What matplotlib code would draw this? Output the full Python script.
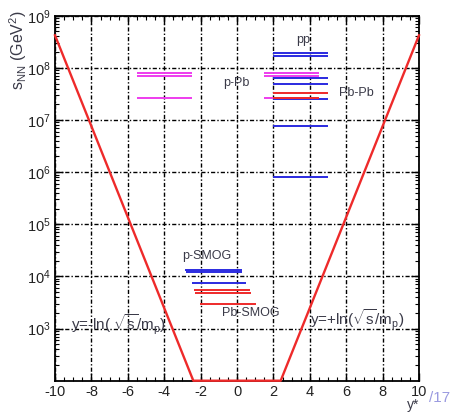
import matplotlib
matplotlib.use('Agg')
import matplotlib.pyplot as plt
from matplotlib.ticker import MultipleLocator, LogLocator, NullFormatter

plt.rcParams['font.family'] = ['Liberation Sans', 'DejaVu Sans']
plt.rcParams['mathtext.fontset'] = 'custom'
plt.rcParams['mathtext.rm'] = 'Liberation Sans'
plt.rcParams['mathtext.it'] = 'Liberation Sans'

# kinematic limit (V shape)
lim_y = [-10, -2.4, 2.4, 10]
lim_s = [4.2e8, 100, 100, 4.2e8]

# collider systems: s_NN values and y* ranges
pp_s = [1.96e8, 1.69e8, 6.4e7, 4.9e7, 2.5e7, 7.6e6, 8.1e5]
pp_y = (2.0, 5.0)
ppb_s = [8.1e7, 7.0e7, 2.6e7]
ppb_y = [(-5.5, -2.5), (1.5, 4.5)]
pbpb_s = [3.3e7, 2.6e7]
pbpb_y1 = [5.0, 4.5]
pbpb_y0 = 2.0

# fixed target (SMOG)
psmog_s = [1.35e4, 1.2e4, 7.6e3]
psmog_y0 = [-2.86, -2.8, -2.5]
psmog_y1 = [0.26, 0.3, 0.5]
pbsmog_s = [5.5e3, 4.8e3, 3.0e3]
pbsmog_y0 = [-2.36, -2.3, -2.03]
pbsmog_y1 = [0.71, 0.77, 1.04]

blue = '#2a2ae0'
mag = '#ee3cee'
red = '#ee2a2a'
txt = '#3a3a48'

fig = plt.figure(figsize=(4.54, 4.12), dpi=100)
ax = fig.add_axes([55/454, 1-380.7/412, 364/454, 365/412])
ax.set_yscale('log')
ax.set_xlim(-10, 10)
ax.set_ylim(1e2, 1e9)

# grid
ax.xaxis.set_major_locator(MultipleLocator(2))
ax.xaxis.set_minor_locator(MultipleLocator(0.5))
ax.grid(True, which='major', color='black', lw=1.0, ls=(0, (3, 1.5, 1, 1.5)))

# lines
lw = 1.4
for s in pp_s:
    ax.hlines(s, pp_y[0], pp_y[1], color=blue, lw=lw)
for y0, y1 in ppb_y:
    for s in ppb_s:
        ax.hlines(s, y0, y1, color=mag, lw=lw)
for s, y1 in zip(pbpb_s, pbpb_y1):
    ax.hlines(s, pbpb_y0, y1, color=red, lw=lw)
for s, y0, y1 in zip(psmog_s, psmog_y0, psmog_y1):
    ax.hlines(s, y0, y1, color=blue, lw=lw)
for s, y0, y1 in zip(pbsmog_s, pbsmog_y0, pbsmog_y1):
    ax.hlines(s, y0, y1, color=red, lw=lw)

ax.plot(lim_y, lim_s, color=red, lw=1.7, clip_on=False, zorder=5)

# labels
ax.text(3.65, 3.4e8, 'pp', color=txt, fontsize=9, ha='center', va='center')
ax.text(-0.05, 5.1e7, 'p-Pb', color=txt, fontsize=9, ha='center', va='center')
ax.text(5.6, 3.3e7, 'Pb-Pb', color=txt, fontsize=9, ha='left', va='center')
ax.text(-3.0, 2.45e4, 'p-SMOG', color=txt, fontsize=9, ha='left', va='center')
ax.text(-0.8, 2.0e3, 'Pb-SMOG', color=txt, fontsize=9, ha='left', va='center')
ax.text(-9.1, 1.2e3, r'y=-ln( $\sqrt{\rm s}$/m$_{\rm p}$)', color=txt, fontsize=11,
        ha='left', va='center')
ax.text(4.0, 1.45e3, r'y=+ln($\sqrt{\rm s}$/m$_{\rm p}$)', color=txt, fontsize=11,
        ha='left', va='center')

# ticks
ax.set_yticks([1e3, 1e4, 1e5, 1e6, 1e7, 1e8, 1e9])
ax.set_yticklabels([r'$10^{%d}$' % k for k in range(3, 10)])
ax.yaxis.set_minor_locator(LogLocator(base=10, subs=range(2, 10), numticks=20))
ax.yaxis.set_minor_formatter(NullFormatter())
ax.set_xticks(range(-10, 11, 2))
ax.set_xticklabels([str(v) for v in range(-10, 11, 2)])
ax.tick_params(which='both', direction='in', top=True, right=True, labelsize=10.5,
               colors='black', labelcolor='#222222')
ax.tick_params(which='major', length=6, width=1.0, pad=3)
ax.tick_params(which='minor', length=3, width=0.8)
for sp in ax.spines.values():
    sp.set_linewidth(1.3)

fig.text(18/454, 1-10/412, r'$\mathregular{s_{NN}}$ (GeV$^2$)', rotation=90,
         ha='center', va='top', fontsize=11.5, color=txt)
fig.text(413/454, 1-405/412, 'y*', ha='center', va='center', fontsize=10, color=txt)
fig.text(440/454, 1-398/412, '/17', ha='center', va='center', fontsize=11, color='#9a9ae0')

fig.savefig('out.png', dpi=100)
